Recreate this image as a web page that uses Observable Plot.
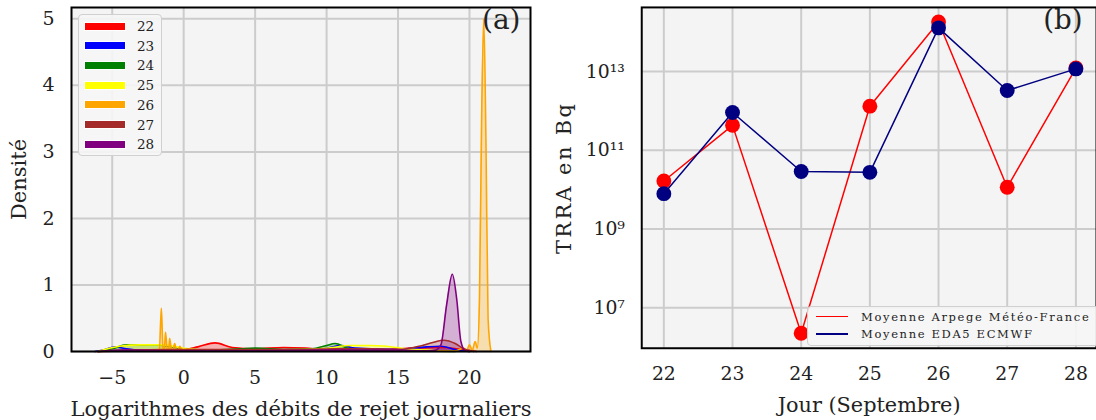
<!DOCTYPE html>
<html><head><meta charset="utf-8">
<script src="https://cdn.jsdelivr.net/npm/d3@7"></script>
<script src="https://cdn.jsdelivr.net/npm/@observablehq/plot@0.6"></script>
<style>
html,body{margin:0;padding:0;background:#fff;overflow:hidden;}
#wrap{position:relative;width:1096px;height:420px;overflow:hidden;font-family:"DejaVu Serif",serif;color:#222;}
#left{position:absolute;left:0;top:0;}
#right{position:absolute;left:560px;top:0;}
#wrap svg [aria-label="x-axis label"] text{font-size:21px;}
#wrap svg [aria-label="y-axis label"] text{font-size:21px;}
#right svg [aria-label="y-axis label"] text{letter-spacing:2.5px;}
.legA{position:absolute;left:78px;top:14px;width:84px;height:142px;box-sizing:border-box;border:1.5px solid #d0d0d0;border-radius:4px;background:rgba(246,246,246,0.9);}
.legA .row{position:absolute;left:6px;height:20px;display:flex;align-items:center;}
.legA .sw{width:40px;height:7px;outline:1.5px solid #fff;}
.legA .lb{margin-left:12px;font-size:13.5px;}
.legB{position:absolute;left:807px;top:306px;width:292px;height:40px;box-sizing:border-box;border:1.5px solid #d0d0d0;border-radius:4px;background:rgba(246,246,246,0.9);}
.legB .row{position:absolute;left:8px;height:17px;display:flex;align-items:center;}
.legB .ln{width:32px;height:1.5px;}
.legB .lb{margin-left:13px;font-size:11.5px;letter-spacing:1.65px;white-space:nowrap;}
</style></head>
<body><div id="wrap"><div id="left"></div><div id="right"></div></div>
<script>
// ---------- Panel (a): density curves ----------
const days = [22, 23, 24, 25, 26, 27, 28];
const dayColors = ["red", "blue", "green", "yellow", "orange", "brown", "purple"];
const xTicksA = [-5, 0, 5, 10, 15, 20];
const yTicksA = [0, 1, 2, 3, 4, 5];

const kdeX22 = [-6, -4, -2, 0, 1, 2.2, 3.4, 5, 7, 8.5, 10, 12, 14, 16, 18, 19.5, 20.5];
const kdeY22 = [0, 0.01, 0.02, 0.03, 0.07, 0.13, 0.06, 0.04, 0.06, 0.05, 0.03, 0.04, 0.03, 0.05, 0.06, 0.03, 0];
const kdeX23 = [-6.2, -5.5, -4.8, -4, -3, 0, 5, 8, 10, 11, 12, 15, 17, 18, 19, 20];
const kdeY23 = [0, 0.03, 0.07, 0.04, 0.02, 0.01, 0.01, 0.02, 0.05, 0.09, 0.05, 0.03, 0.07, 0.08, 0.03, 0];
const kdeX24 = [-6, -5, -4, -2, -1, 0, 2, 4, 5, 7, 9, 10, 10.6, 11.5, 13, 15, 17, 19];
const kdeY24 = [0, 0.04, 0.1, 0.1, 0.08, 0.04, 0.02, 0.04, 0.05, 0.03, 0.04, 0.09, 0.12, 0.05, 0.02, 0.01, 0.01, 0];
const kdeX25 = [-6, -4.5, -3, -1.5, 0, 2, 5, 8, 10, 11.7, 13, 14.2, 15.5, 17, 18.5];
const kdeY25 = [0, 0.08, 0.1, 0.1, 0.05, 0.02, 0.02, 0.03, 0.05, 0.09, 0.09, 0.08, 0.04, 0.02, 0];
const kdeX26 = [-2, -1.7, -1.56, -1.45, -1.35, -1.27, -1.15, -1.05, -0.98, -0.85, -0.75, -0.63, -0.5, -0.4, -0.28, -0.1, 0.3, 1, 5, 10, 15, 19, 19.6, 19.8, 20, 20.2, 20.4, 20.55, 20.7, 20.85, 21.0, 21.15, 21.3, 21.5];
const kdeY26 = [0.02, 0.03, 0.65, 0.05, 0.03, 0.29, 0.03, 0.02, 0.2, 0.02, 0.02, 0.12, 0.02, 0.02, 0.08, 0.02, 0.04, 0.02, 0.01, 0.01, 0.01, 0.01, 0.05, 0.01, 0.1, 0.02, 0.15, 0.05, 0.8, 3.5, 5.0, 3.2, 0.5, 0];
const kdeX27 = [-6, -4, -1, 2, 5, 8, 11, 13, 15, 16.5, 17.5, 18.2, 19, 19.6, 20.3];
const kdeY27 = [0, 0.02, 0.03, 0.03, 0.03, 0.03, 0.04, 0.04, 0.03, 0.08, 0.14, 0.17, 0.12, 0.04, 0];
const kdeX28 = [-6, -4, 0, 5, 10, 15, 17, 17.6, 18, 18.4, 18.8, 19.1, 19.4, 19.7, 20];
const kdeY28 = [0, 0.02, 0.01, 0.01, 0.02, 0.02, 0.01, 0.02, 0.1, 0.7, 1.16, 0.8, 0.15, 0.01, 0];

const kdeSeries = [
  {day: 22, xs: kdeX22, ys: kdeY22}, {day: 23, xs: kdeX23, ys: kdeY23},
  {day: 24, xs: kdeX24, ys: kdeY24}, {day: 25, xs: kdeX25, ys: kdeY25},
  {day: 26, xs: kdeX26, ys: kdeY26}, {day: 27, xs: kdeX27, ys: kdeY27},
  {day: 28, xs: kdeX28, ys: kdeY28}
];
const kdeRows = kdeSeries.flatMap(s => s.xs.map((x, i) => ({day: s.day, x, d: s.ys[i], zero: 0})));

const gridStyle = {stroke: "#cccccc", strokeOpacity: 1, strokeWidth: 2};
const baseStyle = {fontFamily: "DejaVu Serif", fontSize: "19px", color: "#222", background: "transparent", overflow: "visible"};

const plotA = Plot.plot({
  width: 560, height: 420,
  marginLeft: 71, marginRight: 30, marginTop: 7, marginBottom: 69,
  style: baseStyle,
  x: {domain: [-7.85, 24.27]},
  y: {domain: [0, 5.17]},
  color: {type: "ordinal", domain: days, range: dayColors},
  marks: [
    Plot.frame({fill: "#f4f4f4", stroke: null}),
    Plot.gridX(xTicksA, gridStyle),
    Plot.gridY(yTicksA, gridStyle),
    Plot.area(kdeRows, {x1: "x", y1: "zero", y2: "d", z: "day", fill: "day", fillOpacity: 0.28, curve: "monotone-x"}),
    Plot.lineY(kdeRows, {x: "x", y: "d", z: "day", stroke: "day", strokeWidth: 1.6, curve: "monotone-x"}),
    Plot.frame({stroke: "black", strokeWidth: 2}),
    Plot.axisX(xTicksA, {tickSize: 0, tickPadding: 19, label: "Logarithmes des débits de rejet journaliers", labelAnchor: "center", labelOffset: 64, labelArrow: "none"}),
    Plot.axisY(yTicksA, {tickSize: 0, tickPadding: 17, tickFormat: d => String(d), label: "Densité", labelAnchor: "center", labelOffset: 60, labelArrow: "none"}),
    Plot.text(["(a)"], {frameAnchor: "top-right", dx: -10, dy: 2, fontSize: 28, lineAnchor: "top"})
  ]
});
document.getElementById("left").appendChild(plotA);

// ---------- Panel (b): TRRA ----------
const jours = [22, 23, 24, 25, 26, 27, 28];
const arpege = [1.66e10, 4.3e11, 2.24e6, 1.32e12, 1.82e14, 1.15e10, 1.23e13];
const eda5 = [7.9e9, 9.1e11, 2.9e10, 2.75e10, 1.29e14, 3.3e12, 1.17e13];
const yTicksB = [1e7, 1e9, 1e11, 1e13];
const seriesNames = ["Moyenne Arpege Météo-France", "Moyenne EDA5 ECMWF"];
const seriesColors = ["red", "navy"];

const sup = {"0":"⁰","1":"¹","2":"²","3":"³","4":"⁴","5":"⁵","6":"⁶","7":"⁷","8":"⁸","9":"⁹"};
const fmtPow = d => "10" + String(Math.round(Math.log10(d))).split("").map(c => sup[c]).join("");

const rowsB = [
  ...jours.map((j, i) => ({serie: seriesNames[0], j, v: arpege[i]})),
  ...jours.map((j, i) => ({serie: seriesNames[1], j, v: eda5[i]}))
];

const plotB = Plot.plot({
  width: 541, height: 420,
  marginLeft: 82, marginRight: 0, marginTop: 7, marginBottom: 69,
  style: baseStyle,
  x: {domain: [21.678, 28.3]},
  y: {type: "log", domain: [Math.pow(10, 5.97), Math.pow(10, 14.63)]},
  color: {domain: seriesNames, range: seriesColors},
  marks: [
    Plot.frame({fill: "#f4f4f4", stroke: null}),
    Plot.gridX(jours, gridStyle),
    Plot.gridY(yTicksB, gridStyle),
    Plot.line(rowsB.filter(d => d.serie === seriesNames[0]), {x: "j", y: "v", stroke: "serie", strokeWidth: 1.5}),
    Plot.dot(rowsB.filter(d => d.serie === seriesNames[0]), {x: "j", y: "v", fill: "serie", r: 7.5}),
    Plot.line(rowsB.filter(d => d.serie === seriesNames[1]), {x: "j", y: "v", stroke: "serie", strokeWidth: 1.5}),
    Plot.dot(rowsB.filter(d => d.serie === seriesNames[1]), {x: "j", y: "v", fill: "serie", r: 7.5}),
    Plot.frame({stroke: "black", strokeWidth: 2}),
    Plot.axisX(jours, {tickSize: 0, tickPadding: 19, tickFormat: d => String(d), label: "Jour (Septembre)", labelAnchor: "center", labelOffset: 64, labelArrow: "none"}),
    Plot.axisY(yTicksB, {tickSize: 0, tickPadding: 17, tickFormat: fmtPow, label: "TRRA en Bq", labelAnchor: "center", labelOffset: 86, labelArrow: "none"}),
    Plot.text(["(b)"], {frameAnchor: "top-right", dx: -14, dy: 2, fontSize: 28, lineAnchor: "top"})
  ]
});
document.getElementById("right").appendChild(plotB);

// ---------- Legends ----------
const wrap = document.getElementById("wrap");
const legA = document.createElement("div");
legA.className = "legA";
days.forEach((d, i) => {
  const row = document.createElement("div");
  row.className = "row";
  row.style.top = (1 + i * 19.7) + "px";
  row.innerHTML = `<span class="sw" style="background:${dayColors[i]}"></span><span class="lb">${d}</span>`;
  legA.appendChild(row);
});
wrap.appendChild(legA);

const legB = document.createElement("div");
legB.className = "legB";
seriesNames.forEach((n, i) => {
  const row = document.createElement("div");
  row.className = "row";
  row.style.top = (1 + i * 17.5) + "px";
  row.innerHTML = `<span class="ln" style="background:${seriesColors[i]}"></span><span class="lb">${n}</span>`;
  legB.appendChild(row);
});
wrap.appendChild(legB);
</script>
</body></html>
